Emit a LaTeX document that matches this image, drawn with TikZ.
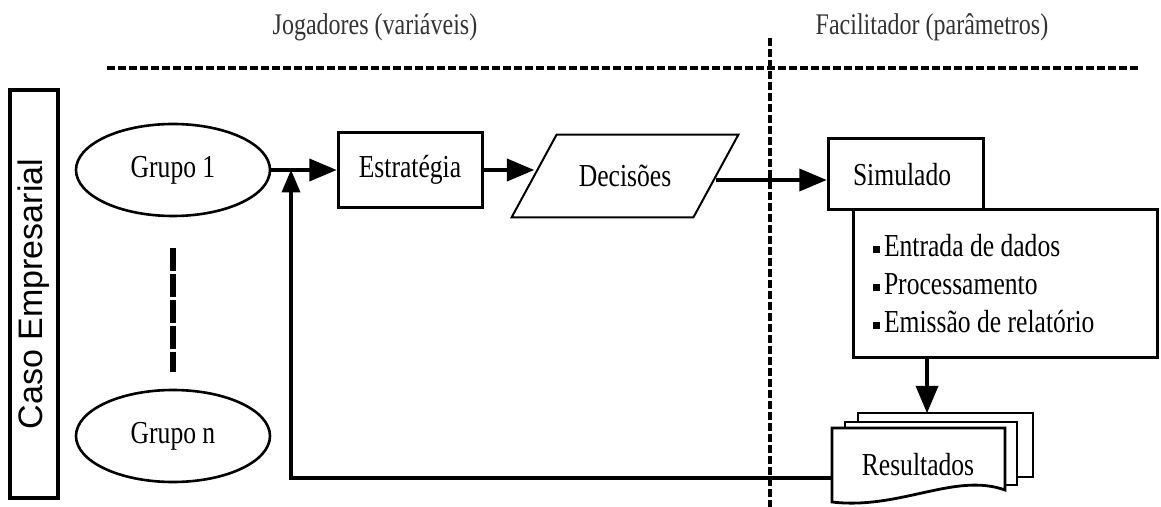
\documentclass[tikz,border=0pt]{standalone}
\usepackage{fontspec}
\setmainfont{Liberation Serif}[FakeStretch=0.8]
\newfontfamily\casofont{Liberation Sans}
\usetikzlibrary{shapes,arrows,calc}
\tikzset{>=triangle 45}
\newcommand{\sq}{\rule[0.3ex]{3.5pt}{3.5pt}\hspace{2pt}}

\begin{document}
\begin{tikzpicture}[x=0.5pt, y=-0.5pt]

%% styles
\tikzstyle{grupo}=[draw, ellipse, line width=1.3pt, minimum width=97pt, minimum height=46pt, inner sep=0pt]

\tikzstyle{caixa}=[draw, line width=1.5pt, inner sep=0pt]

\tikzstyle{titulo}=[font=\fontsize{15}{18}\selectfont, text=black!80]

\tikzstyle{divisa}=[line width=1.8pt, dash pattern=on 4pt off 1.5pt]

\tikzstyle{doc}=[draw, fill=white, line width=1.4pt]

\tikzstyle{seta}=[line width=2.2pt]

\useasboundingbox (0,0) rectangle (1161,507);

%% headers and dividers
\node(Jog)[style = titulo] at (375, 27) {Jogadores (variáveis)};
\node(Fac)[style = titulo] at (932, 27) {Facilitador (parâmetros)};

\draw[style = divisa] (107, 68) -- (1140, 68);
\draw[style = divisa] (770, 38) -- (770, 507);

%% blobs
\node(Caso)[style = caixa, line width=1.8pt, rotate=90, minimum width=204pt, minimum height=24pt,
  font=\casofont\fontsize{17}{20}\selectfont] at (34, 294)
{Caso Empresarial};

\node(G1)[style = grupo, font=\fontsize{16}{19}\selectfont] at (173, 170) {Grupo 1};

\node(Gn)[style = grupo, font=\fontsize{16}{19}\selectfont] at (173, 436) {Grupo n};

\node(Estr)[style = caixa, minimum width=72pt, minimum height=37.5pt, font=\fontsize{16}{19}\selectfont] at (410, 170)
{Estratégia};

\node(Dec)[minimum width=90.5pt, minimum height=41pt, inner sep=0pt, font=\fontsize{16}{19}\selectfont] at (625, 176)
{Decisões};
\draw[line width=1pt] ([xshift=-11.25pt]Dec.south west) -- ([xshift=11.25pt]Dec.north west)
  -- ([xshift=11.25pt]Dec.north east) -- ([xshift=-11.25pt]Dec.south east) -- cycle;

%% text boxes
\node(Lista)[style = caixa, text width=132pt, inner xsep=10pt, minimum height=74pt, align=flush left,
  font=\fontsize{16}{19}\selectfont] at (1005, 284)
{
\sq Entrada de dados\\
\sq Processamento\\
\sq Emissão de relatório
};

\node(Sim)[style = caixa, text width=52.5pt, inner xsep=12.5pt, minimum height=35.5pt, align=flush left,
  font=\fontsize{16}{19}\selectfont] at (905.5, 174.5)
{Simulado};

%% stacked results
\draw[style = doc] (858, 413) rectangle (1033, 477);
\draw[style = doc] (845, 422) rectangle (1017, 485);
\draw[style = doc] (832, 428) -- (1005, 428) -- (1005, 490) .. controls (955, 472) and (900, 510) .. (832, 502) -- cycle;

\node(Res)[minimum width=86.5pt, inner sep=0pt, font=\fontsize{16}{19}\selectfont] at (918, 465) {Resultados};

\coordinate (Topo) at (927, 413);
\coordinate (Junta) at (291, 170);

%% arrows
\path [draw, dash pattern=on 11.5pt off 1.5pt, line width=3pt, shorten <=15.5pt, shorten >=8.5pt] (G1) -- (Gn);

\path [draw, ->, style = seta] (G1) -- (Estr);

\path [draw, ->, style = seta] (Estr) -- (Estr -| Dec.west);

\path [draw, ->, style = seta] ([yshift=-2pt]Dec.east) -- ([yshift=-2pt]Dec.east -| Sim.west);

\path [draw, ->, style = seta] (Lista.south -| Topo) -- (Topo);

\path [draw, ->, style = seta, line width=1.6pt] ([yshift=-6.5pt]Res.west) -| (Junta);

\end{tikzpicture}
\end{document}
